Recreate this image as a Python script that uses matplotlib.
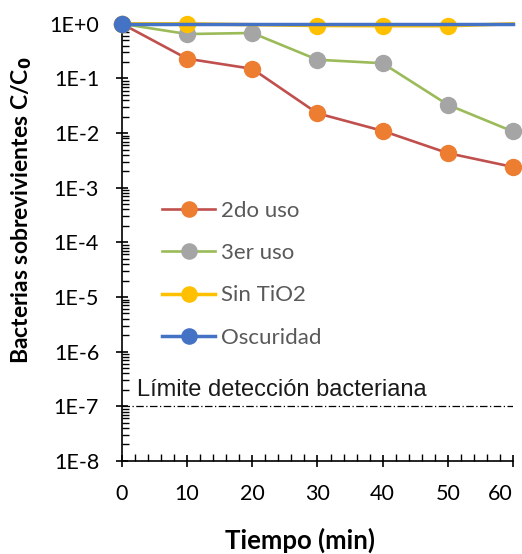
import matplotlib
matplotlib.use('Agg')
import matplotlib.pyplot as plt
from matplotlib.ticker import MultipleLocator, LogLocator, NullFormatter, FixedLocator

tiempo = [0, 10, 20, 30, 40, 50, 60]
uso2 = [1, 0.23, 0.15, 0.023, 0.011, 0.0043, 0.0024]
uso3 = [1, 0.65, 0.68, 0.22, 0.19, 0.033, 0.0107]
t_sin = [0, 10, 30, 40, 50, 60]
sin_tio2 = [1, 1.0, 0.93, 0.92, 0.92, 1.0]
t_osc = [0, 60]
oscuridad = [1, 1]
limite = 1e-7

ytick_vals = [1e0, 1e-1, 1e-2, 1e-3, 1e-4, 1e-5, 1e-6, 1e-7, 1e-8]
ytick_labels = ['1E+0', '1E-1', '1E-2', '1E-3', '1E-4', '1E-5', '1E-6', '1E-7', '1E-8']

plt.rcParams['font.family'] = ['Lato', 'DejaVu Sans']

fig = plt.figure(figsize=(5.22, 5.54), dpi=100)
ax = fig.add_axes([0.2337, 0.168, 0.749, 0.789])

ms = 11.5
ax.plot(tiempo, uso2, color='#C0504D', lw=1.9, marker='o', ms=ms, mfc='#ED7D31', mec='#ED7D31',
        label='2do uso', clip_on=False, zorder=3)
ax.plot(tiempo, uso3, color='#9BBB59', lw=1.9, marker='o', ms=ms, mfc='#A5A5A5', mec='#A5A5A5',
        label='3er uso', clip_on=False, zorder=3)
ax.plot(t_sin, sin_tio2, color='#FFC000', lw=2.5, marker='o', ms=ms, mfc='#FFC000', mec='#FFC000',
        markevery=[0, 1, 2, 3, 4], label='Sin TiO2', clip_on=False, zorder=4)
ax.plot(t_osc, oscuridad, color='#4472C4', lw=2.5, marker='o', ms=ms, mfc='#4472C4', mec='#4472C4',
        markevery=[0], label='Oscuridad', clip_on=False, zorder=5)

# limite de deteccion
ax.plot([0, 60], [limite, limite], color='black', lw=0.9, ls=(0, (6, 2, 1, 2)))
ax.text(2.3, 1.57e-7, 'Límite detección bacteriana', family='Liberation Sans', fontsize=17,
        ha='left', va='baseline', color='#1a1a1a')

ax.set_yscale('log')
ax.set_xlim(0, 60)
ax.set_ylim(1e-8, 1)
ax.yaxis.set_major_locator(FixedLocator(ytick_vals))
ax.set_yticklabels(ytick_labels)
ax.yaxis.set_minor_locator(LogLocator(base=10, subs=range(2, 10), numticks=20))
ax.yaxis.set_minor_formatter(NullFormatter())
ax.set_xticks(tiempo)
ax.xaxis.set_minor_locator(MultipleLocator(2))

for s in ['top', 'right']:
    ax.spines[s].set_visible(False)
for s in ['left', 'bottom']:
    ax.spines[s].set_linewidth(1.2)

ax.tick_params(which='major', direction='inout', length=9, width=1.2, labelsize=15.5)
ax.tick_params(axis='y', which='major', pad=12)
ax.tick_params(axis='x', which='major', pad=12)
ax.tick_params(which='minor', direction='in', length=5, width=1)

# ultima etiqueta del eje x alineada a la derecha, como en Excel
ax.xaxis.get_major_ticks()[-1].label1.set_horizontalalignment('right')

fig.text(300 / 522, 1 - 540 / 554, 'Tiempo (min)', fontsize=18.5, fontweight='bold', ha='center', va='center')
fig.text(22 / 522, 1 - 210 / 554, 'Bacterias sobrevivientes C/C$_\\mathbf{0}$', fontsize=16.5,
         fontweight='bold', ha='center', va='center', rotation=90)

leg = ax.legend(loc='upper left', bbox_to_anchor=(162 / 522, 1 - 201 / 554), bbox_transform=fig.transFigure,
                frameon=False, fontsize=16, handlelength=2.4, labelspacing=1.0, handletextpad=0.25,
                borderpad=0, borderaxespad=0, markerscale=0.95)
for t in leg.get_texts():
    t.set_color('#595959')

fig.savefig('out.png', dpi=100)
